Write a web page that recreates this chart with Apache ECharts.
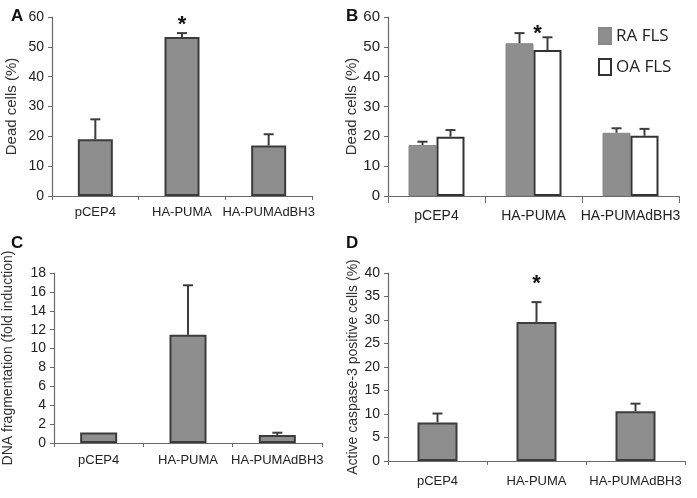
<!DOCTYPE html>
<html><head><meta charset="utf-8">
<script src="https://cdn.jsdelivr.net/npm/echarts@6/dist/echarts.min.js"></script>
<style>html,body{margin:0;padding:0;background:#fff}#c{width:697px;height:498px}</style>
</head><body><div id="c"></div>
<script>
const categories = ['pCEP4', 'HA-PUMA', 'HA-PUMAdBH3'];
// Panel A
const aValues = [19.0, 53.3, 16.9];
const aErrTop = [25.7, 54.6, 20.7];
const aStar = [null, 58.7, null];
// Panel B
const raValues = [17.1, 51.2, 21.2];
const raErrTop = [18.2, 54.6, 22.7];
const oaValues = [19.9, 48.9, 20.2];
const oaErrTop = [22.1, 53.2, 22.5];
const bStar = [null, 55.6, null];
// Panel C
const cValues = [1.1, 11.45, 0.85];
const cErrTop = [null, 16.7, 1.09];
// Panel D
const dValues = [8.2, 29.6, 10.6];
const dErrTop = [10.1, 33.8, 12.2];
const dStar = [null, 38.5, null];

const NARROW = "'Liberation Sans Narrow', 'Arial Narrow', sans-serif";
const SANS = "'Liberation Sans', Arial, sans-serif";
const GREY = '#8e8e8e';
const EDGE = '#3c3c3c';
const AXIS = '#6a6a6a';

const chart = echarts.init(document.getElementById('c'), null, {renderer: 'canvas'});

function errSeries(idx, tops, vals, offset) {
  return {
    type: 'custom', xAxisIndex: idx, yAxisIndex: idx, z: 5,
    data: categories.map((c, i) => [i, vals[i], tops[i]]),
    renderItem: function (params, api) {
      const top = api.value(2);
      if (top == null || isNaN(top)) return null;
      const p0 = api.coord([api.value(0), api.value(1)]);
      const p1 = api.coord([api.value(0), top]);
      const x = p0[0] + offset;
      return {type: 'group', children: [
        {type: 'line', shape: {x1: x, y1: p0[1], x2: x, y2: p1[1]}, style: {stroke: EDGE, lineWidth: 2}},
        {type: 'line', shape: {x1: x - 5, y1: p1[1], x2: x + 5, y2: p1[1]}, style: {stroke: EDGE, lineWidth: 2}}
      ]};
    }
  };
}
function starSeries(idx, stars, offset) {
  return {
    type: 'custom', xAxisIndex: idx, yAxisIndex: idx, z: 6,
    data: categories.map((c, i) => [i, stars[i]]),
    renderItem: function (params, api) {
      const v = api.value(1);
      if (v == null || isNaN(v)) return null;
      const p = api.coord([api.value(0), v]);
      return {type: 'text', x: p[0] + offset, y: p[1] + 4, style: {text: '*', fill: '#111', font: 'bold 22px ' + SANS, align: 'center', verticalAlign: 'middle'}};
    }
  };
}
function xAx(idx, font, size, margin, tickLen) {
  return {type: 'category', gridIndex: idx, data: categories,
    axisLine: {lineStyle: {color: AXIS, width: 1.2}},
    axisTick: {show: true, length: tickLen, lineStyle: {color: AXIS}},
    axisLabel: {color: '#222', fontFamily: font, fontSize: size, margin: margin, interval: 0}};
}
function yAx(idx, max, interval, name, nameSize, nameGap, tickFont, tickSize) {
  return {type: 'value', gridIndex: idx, min: 0, max: max, interval: interval,
    name: name, nameLocation: 'middle', nameGap: nameGap, nameRotate: 90,
    nameTextStyle: {fontFamily: SANS, fontSize: nameSize, color: '#333'},
    axisLine: {show: true, lineStyle: {color: AXIS, width: 1.2}},
    axisTick: {show: true, length: 4, lineStyle: {color: AXIS}},
    splitLine: {show: false},
    axisLabel: {color: '#222', fontFamily: tickFont, fontSize: tickSize, margin: 8}};
}
const barItem = {color: GREY, borderColor: EDGE, borderWidth: 2};

chart.setOption({
  animation: false,
  backgroundColor: '#fff',
  grid: [
    {left: 52, top: 17, width: 260, height: 179},
    {left: 388, top: 17, width: 291, height: 179},
    {left: 52, top: 273, width: 270, height: 170},
    {left: 388, top: 273, width: 297, height: 188}
  ],
  xAxis: [
    xAx(0, NARROW, 13, 10, 4),
    xAx(1, SANS, 14, 13, 7),
    xAx(2, NARROW, 13, 11, 4),
    xAx(3, NARROW, 13, 14, 4)
  ],
  yAxis: [
    yAx(0, 60, 10, 'Dead cells (%)', 15, 33, NARROW, 14),
    yAx(1, 60, 10, 'Dead cells (%)', 15, 28, SANS, 15),
    yAx(2, 18, 2, 'DNA fragmentation (fold induction)', 14, 39, NARROW, 14),
    yAx(3, 40, 5, 'Active caspase-3 positive cells (%)', 14, 27, NARROW, 14)
  ],
  legend: {
    show: true, orient: 'vertical', left: 593, top: 22, itemWidth: 12, itemHeight: 16, itemGap: 13,
    icon: 'rect',
    textStyle: {fontFamily: "'Open Sans', sans-serif", fontSize: 17, color: '#222'},
    data: ['RA FLS', 'OA FLS']
  },
  graphic: [
    {type: 'text', left: 11, top: 8, style: {text: 'A', font: 'bold 17px ' + SANS, fill: '#111'}},
    {type: 'text', left: 346, top: 8, style: {text: 'B', font: 'bold 17px ' + SANS, fill: '#111'}},
    {type: 'text', left: 11, top: 235, style: {text: 'C', font: 'bold 17px ' + SANS, fill: '#111'}},
    {type: 'text', left: 346, top: 235, style: {text: 'D', font: 'bold 17px ' + SANS, fill: '#111'}}
  ],
  series: [
    {type: 'bar', xAxisIndex: 0, yAxisIndex: 0, data: aValues, barWidth: 35, itemStyle: barItem},
    errSeries(0, aErrTop, aValues, 0),
    starSeries(0, aStar, 0),
    {name: 'RA FLS', type: 'bar', xAxisIndex: 1, yAxisIndex: 1, data: raValues, barWidth: 28, barGap: '0%', itemStyle: {color: GREY, borderColor: '#888', borderWidth: 1}},
    {name: 'OA FLS', type: 'bar', xAxisIndex: 1, yAxisIndex: 1, data: oaValues, barWidth: 28, barGap: '0%', itemStyle: {color: '#fff', borderColor: '#333', borderWidth: 2}},
    errSeries(1, raErrTop, raValues, -14),
    errSeries(1, oaErrTop, oaValues, 14),
    starSeries(1, bStar, 4),
    {type: 'bar', xAxisIndex: 2, yAxisIndex: 2, data: cValues, barWidth: 37, itemStyle: barItem},
    errSeries(2, cErrTop, cValues, 0),
    {type: 'bar', xAxisIndex: 3, yAxisIndex: 3, data: dValues, barWidth: 40, itemStyle: barItem},
    errSeries(3, dErrTop, dValues, 0),
    starSeries(3, dStar, 0)
  ]
});
</script></body></html>
